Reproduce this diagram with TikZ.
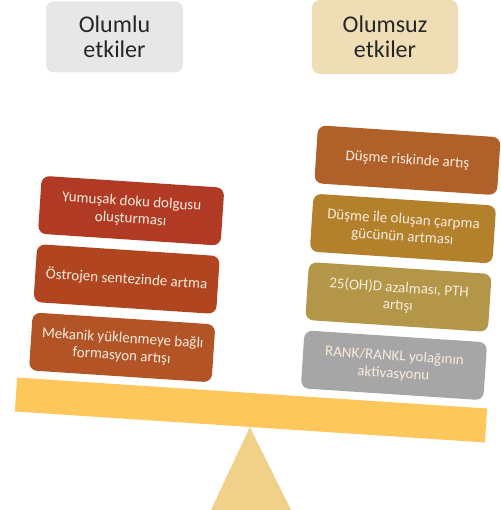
\documentclass[tikz,border=0pt]{standalone}
\usepackage{fontspec}
\setmainfont{Carlito}
\usepackage{tikz}

\definecolor{hdrgray}{HTML}{E6E7E6}
\definecolor{hdrtan}{HTML}{EEDDB5}
\definecolor{redbrown}{HTML}{B03A24}
\definecolor{rust}{HTML}{B0451F}
\definecolor{burnt}{HTML}{B25426}
\definecolor{copper}{HTML}{B0612A}
\definecolor{ochre}{HTML}{B3802C}
\definecolor{khaki}{HTML}{B49648}
\definecolor{stone}{HTML}{A6A6A6}
\definecolor{beamcol}{HTML}{FDC75C}
\definecolor{fulcol}{HTML}{F1D08A}
\definecolor{cream}{HTML}{F8EBDD}

\tikzset{
  header/.style={rounded corners=8pt, minimum width=137pt, minimum height=71pt,
    align=center, text=black!85, font=\fontsize{24}{25}\selectfont},
  effect/.style={rounded corners=8pt, minimum width=183pt, minimum height=58pt,
    inner sep=2pt, align=center, text=cream, font=\fontsize{15}{17.5}\selectfont},
}

\begin{document}
\begin{tikzpicture}[x=1pt,y=1pt]
    \useasboundingbox (0,0) rectangle (500,510);

    \node [header, fill=hdrgray] (pos) at (114.5,473) {Olumlu\\etkiler};
    \node [header, fill=hdrtan, minimum width=146pt, minimum height=74pt] (neg) at (385,473) {Olumsuz\\etkiler};

    \begin{scope}[shift={(251,100)}, rotate=-3.77, transform shape]
      \node [fill=beamcol, minimum width=471pt, minimum height=34pt, inner sep=0pt] (beam) at (0,0) {};

      \node [effect, fill=redbrown] (soft) at (-132.7,191) {Yumuşak doku dolgusu\\oluşturması};
      \node [effect, fill=rust] (estrogen) at (-132.7,122.5) {Östrojen sentezinde artma};
      \node [effect, fill=burnt] (loading) at (-132.7,54) {Mekanik yüklenmeye bağlı\\formasyon artışı};

      \node [effect, fill=copper] (fallrisk) at (139.7,259.5) {Düşme riskinde artış};
      \node [effect, fill=ochre] (impact) at (139.7,191) {Düşme ile oluşan çarpma\\gücünün artması};
      \node [effect, fill=khaki] (vitd) at (139.7,122.5) {25(OH)D azalması, PTH\\artışı};
      \node [effect, fill=stone] (rankl) at (139.7,54) {RANK/RANKL yolağının\\aktivasyonu};
    \end{scope}

    \coordinate (baseL) at (211,0);
    \coordinate (baseR) at (291,0);
    \fill [fulcol] (beam.south) -- (baseL) -- (baseR) -- cycle;
\end{tikzpicture}
\end{document}
